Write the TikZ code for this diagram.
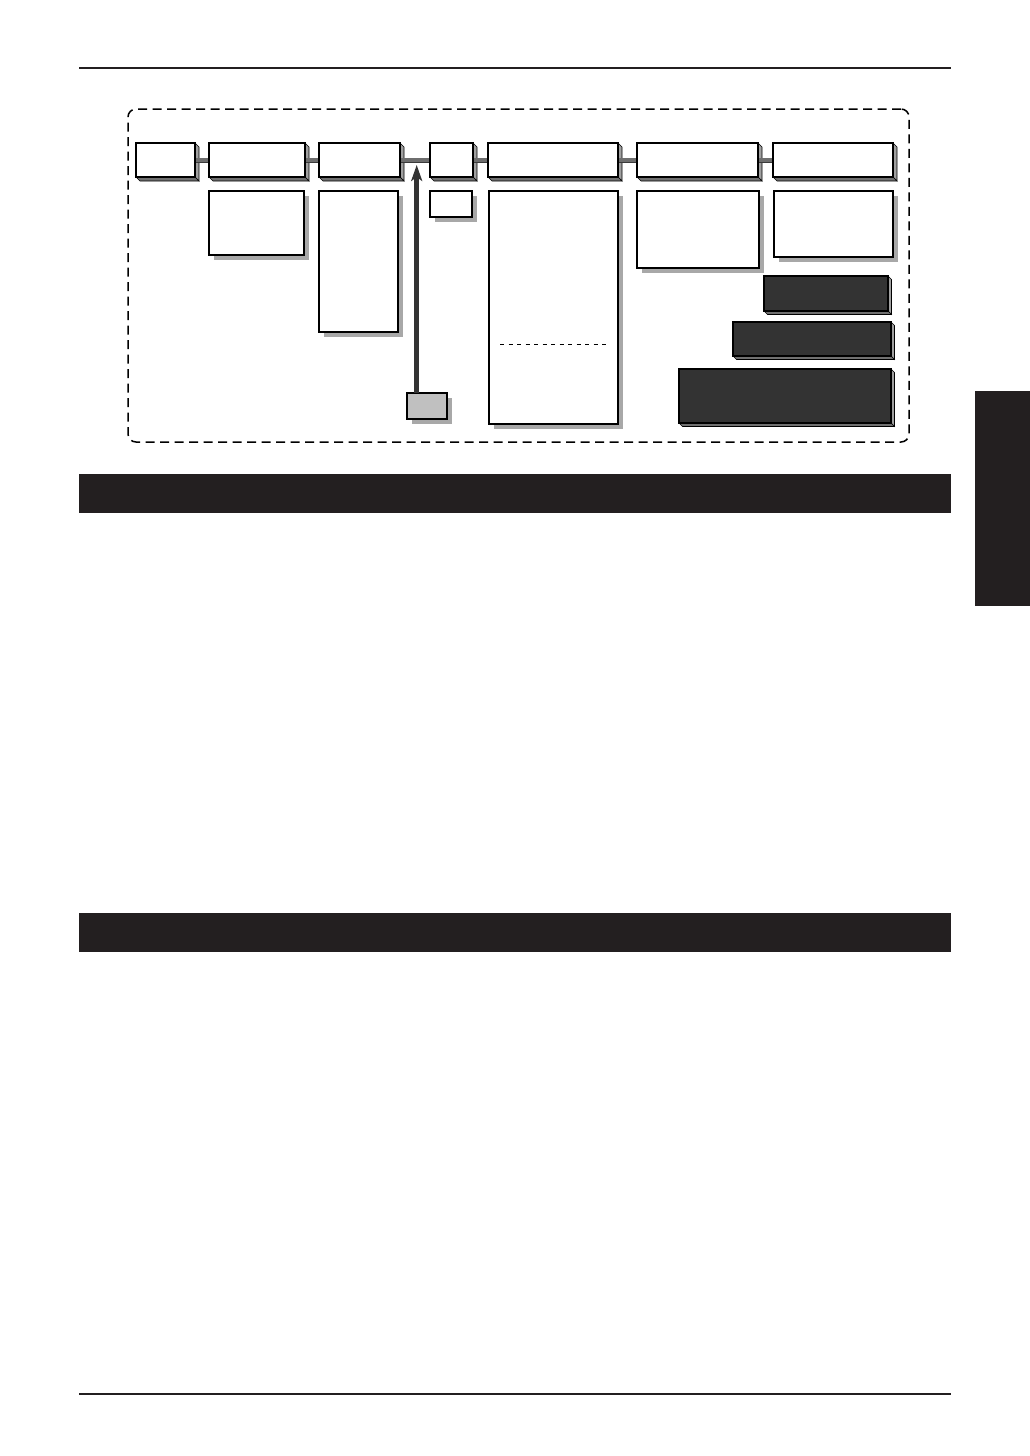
\documentclass[tikz,border=0pt]{standalone}
\usetikzlibrary{shadows,arrows.meta}
\definecolor{ink}{HTML}{231F20}
\definecolor{darkbox}{HTML}{333333}
\definecolor{shadowgray}{HTML}{A8A8A8}
\definecolor{sidegray}{HTML}{A0A0A0}
\definecolor{bottomgray}{HTML}{707070}
\definecolor{conngray}{HTML}{6E6E6E}
\definecolor{connedge}{HTML}{3A3A3A}
\definecolor{smallgray}{HTML}{C0C0C0}
\pgfdeclarelayer{bg}
\pgfdeclarelayer{ext}
\pgfsetlayers{bg,ext,main}
\tikzset{
  raised/.style={draw=black, line width=1.8pt, fill=white, inner sep=0pt, outer sep=0pt, anchor=north west},
  darkraised/.style={raised, fill=darkbox, line width=1.4pt},
  sideface/.style={draw=black, line width=0.6pt, fill=sidegray},
  bottomface/.style={draw=black, line width=0.6pt, fill=bottomgray},
  flatbox/.style={draw=black, line width=1.4pt, fill=white, inner sep=0pt, outer sep=0pt, anchor=north west,
    drop shadow={shadow xshift=5pt, shadow yshift=-5pt, fill=shadowgray, opacity=1}},
  conn/.style={draw=connedge, line width=0.9pt, double=conngray, double distance=3.2pt},
  feed/.style={draw=darkbox, line width=4.6pt, -{Stealth[length=16pt, width=11pt, inset=4pt]}},
  frame/.style={draw=black, line width=1.5pt, dash pattern=on 9pt off 5.5pt, rounded corners=8pt,
    inner sep=0pt, outer sep=0pt, anchor=north west},
  rule/.style={draw=ink, line width=1.3pt},
  bar/.style={fill=ink, draw=none, inner sep=0pt, outer sep=0pt, anchor=north west},
  divider/.style={draw=black, line width=0.9pt, dash pattern=on 4pt off 4.5pt}
}
\newcommand\extrude[2]{%
  \begin{pgfonlayer}{ext}
  \filldraw[sideface] (#1.north east) -- ++(#2,#2) -- ([shift={(#2,#2)}]#1.south east) -- (#1.south east) -- cycle;
  \filldraw[bottomface] (#1.south west) -- (#1.south east) -- ([shift={(#2,#2)}]#1.south east) -- ([shift={(#2,#2)}]#1.south west) -- cycle;
  \end{pgfonlayer}}
\begin{document}
\begin{tikzpicture}[x=1pt,y=-1pt]
\useasboundingbox (0,0) rectangle (1030,1456);
\begin{pgfonlayer}{bg}
\fill[white] (0,0) rectangle (1030,1456);
\end{pgfonlayer}

% rules
\coordinate (topL) at (79,68);
\coordinate (topR) at (951,68);
\draw[rule] (topL) -- (topR);
\coordinate (botL) at (79,1394);
\coordinate (botR) at (951,1394);
\draw[rule] (botL) -- (botR);

% dashed frame
\node[frame, minimum width=781pt, minimum height=333pt] (frame) at (128,109) {};

% top row raised boxes
\node[raised, minimum width=59pt,  minimum height=34pt] (b1) at (136,143) {};
\node[raised, minimum width=96pt,  minimum height=34pt] (b2) at (209,143) {};
\node[raised, minimum width=81pt,  minimum height=34pt] (b3) at (319,143) {};
\node[raised, minimum width=43pt,  minimum height=34pt] (b4) at (430,143) {};
\node[raised, minimum width=130pt, minimum height=34pt] (b5) at (488,143) {};
\node[raised, minimum width=121pt, minimum height=34pt] (b6) at (637,143) {};
\node[raised, minimum width=120pt, minimum height=34pt] (b7) at (773,143) {};
\extrude{b1}{4}\extrude{b2}{4}\extrude{b3}{4}\extrude{b4}{4}
\extrude{b5}{4}\extrude{b6}{4}\extrude{b7}{4}

% connectors
\begin{pgfonlayer}{ext}
\draw[conn] (b1.east) -- (b2.west);
\draw[conn] (b2.east) -- (b3.west);
\draw[conn] (b3.east) -- (b4.west);
\draw[conn] (b4.east) -- (b5.west);
\draw[conn] (b5.east) -- (b6.west);
\draw[conn] (b6.east) -- (b7.west);
\end{pgfonlayer}

% lower flat boxes
\node[flatbox, minimum width=95pt,  minimum height=64pt]  (fa) at (209,191) {};
\node[flatbox, minimum width=79pt,  minimum height=141pt] (fb) at (319,191) {};
\node[flatbox, minimum width=42pt,  minimum height=26pt]  (fc) at (430,191) {};
\node[flatbox, minimum width=129pt, minimum height=233pt] (fd) at (489,191) {};
\node[flatbox, minimum width=122pt, minimum height=77pt]  (fe) at (637,191) {};
\node[flatbox, minimum width=119pt, minimum height=66pt]  (ff) at (774,191) {};
\coordinate (dl) at (500,344);
\coordinate (dr) at (607,344);
\draw[divider] (dl) -- (dr);

% small gray source box and arrow
\node[flatbox, fill=smallgray, minimum width=40pt, minimum height=26pt] (gb) at (407,393) {};
\coordinate (arrtip) at (416.7,165);
\draw[feed] ([xshift=9.7pt]gb.north west) -- (arrtip);

% dark raised boxes
\node[darkraised, minimum width=124pt, minimum height=35pt] (g1) at (764,276) {};
\node[darkraised, minimum width=158pt, minimum height=34pt] (g2) at (733,322) {};
\node[darkraised, minimum width=212pt, minimum height=54pt] (g3) at (679,369) {};
\extrude{g1}{3.5}\extrude{g2}{3.5}\extrude{g3}{3.5}

% header bars and side tab
\node[bar, minimum width=872pt, minimum height=39pt] (bar1) at (79,474) {};
\node[bar, minimum width=872pt, minimum height=39pt] (bar2) at (79,913) {};
\node[bar, minimum width=55pt, minimum height=215pt] (tab) at (975,391) {};
\end{tikzpicture}
\end{document}
